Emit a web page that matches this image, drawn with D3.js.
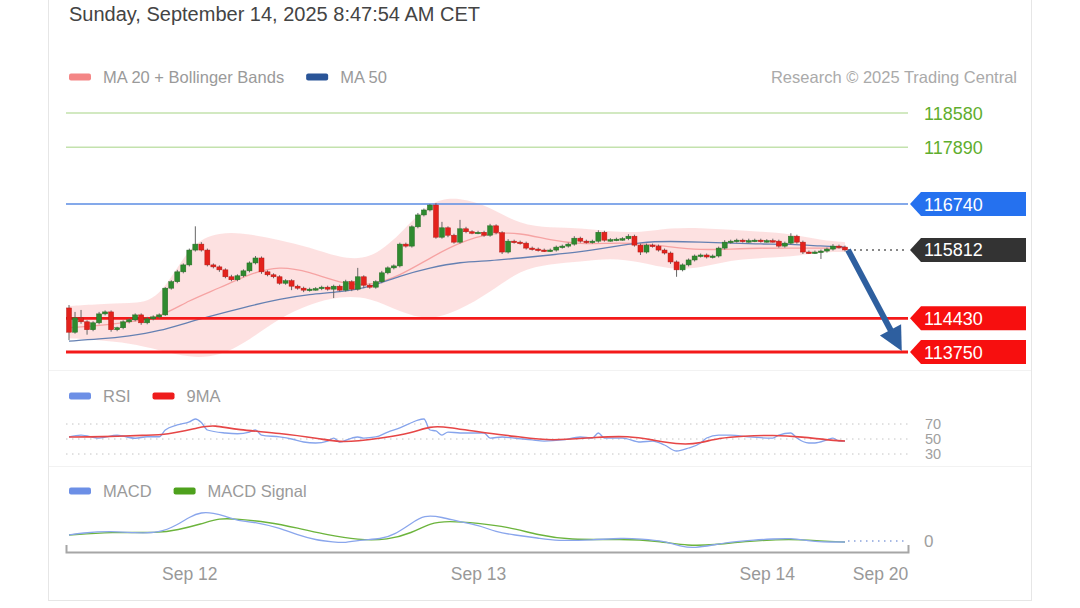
<!DOCTYPE html>
<html>
<head>
<meta charset="utf-8">
<script src="https://cdn.jsdelivr.net/npm/d3@7"></script>
<style>
  body { margin: 0; background: #fff; font-family: "Liberation Sans", Arial, sans-serif; }
</style>
</head>
<body>
<svg id="chart" width="1080" height="608"></svg>
<script>
// 30 minute candles, first one at Sep 11 14:00 UTC
var startTime = Date.UTC(2025, 8, 11, 14, 0);
var halfHour = 30 * 60 * 1000;
var firstOpen = 114640;

var closes = [
  114150, 114440, 114360, 114200, 114340, 114520, 114560, 114200, 114240, 114360,
  114400, 114500, 114340, 114420, 114460, 114500, 115040, 115170, 115370, 115510,
  115810, 115930, 115810, 115510, 115470, 115410, 115270, 115210, 115290, 115390,
  115550, 115650, 115370, 115310, 115270, 115140, 115190, 115080, 115040, 115000,
  115020, 115030, 115060, 115020, 115080, 115000, 115170, 115020, 115270, 115100,
  115060, 115170, 115350, 115450, 115490, 115930, 115890, 116280, 116520, 116620,
  116720, 116070, 116260, 116110, 115970, 116240, 116180, 116160, 116170, 116110,
  116300, 116160, 115770, 115990, 115970, 115950, 115850, 115830, 115810, 115800,
  115810, 115870, 115890, 115930, 116050, 115990, 115970, 115990, 116170, 116010,
  116020, 116030, 116040, 116090, 115910, 115770, 115910, 115890, 115810, 115750,
  115570, 115410, 115510, 115610, 115690, 115710, 115670, 115690, 115850, 115970,
  115990, 116010, 115990, 116000, 116010, 115990, 116000, 115990, 115890, 115950,
  116090, 115970, 115770, 115760, 115770, 115790, 115830, 115890, 115870, 115812
];
// how far the wick goes above / below the body
var wickUp = [
  60, 120, 160, 30, 30, 40, 30, 30, 20, 30,
  30, 30, 30, 40, 30, 30, 20, 30, 40, 30,
  30, 360, 40, 30, 30, 30, 30, 40, 30, 30,
  30, 40, 30, 30, 30, 30, 30, 30, 30, 30,
  30, 30, 30, 30, 30, 30, 40, 30, 180, 30,
  30, 30, 40, 30, 30, 30, 30, 30, 40, 30,
  20, 40, 120, 30, 30, 180, 40, 30, 30, 30,
  40, 30, 30, 40, 30, 30, 30, 30, 30, 30,
  30, 30, 30, 30, 40, 30, 30, 30, 40, 30,
  30, 30, 30, 40, 30, 30, 30, 30, 30, 30,
  30, 30, 30, 30, 30, 30, 30, 30, 30, 40,
  30, 30, 30, 40, 30, 30, 30, 40, 30, 30,
  60, 30, 30, 30, 30, 30, 30, 40, 30, 30
];
var wickDn = [
  160, 30, 40, 100, 30, 30, 30, 40, 30, 30,
  30, 30, 40, 30, 30, 30, 20, 30, 30, 30,
  30, 30, 30, 30, 30, 40, 30, 30, 30, 30,
  30, 30, 40, 30, 30, 30, 30, 80, 30, 40,
  30, 30, 30, 30, 180, 30, 30, 40, 30, 60,
  30, 30, 30, 30, 30, 30, 30, 30, 30, 30,
  30, 30, 30, 40, 30, 30, 30, 30, 30, 30,
  30, 30, 40, 30, 30, 30, 30, 30, 30, 30,
  30, 30, 30, 30, 30, 30, 30, 30, 30, 30,
  30, 30, 30, 30, 30, 60, 30, 30, 30, 30,
  40, 140, 30, 30, 30, 30, 30, 30, 30, 30,
  30, 30, 30, 30, 30, 30, 30, 30, 30, 30,
  30, 30, 40, 30, 30, 140, 30, 30, 30, 30
];

// moving averages / bands read every 5 candles
var bandIdx = [0, 5, 10, 15, 20, 25, 30, 35, 40, 45, 50, 55, 60, 65, 70, 75, 80, 85, 90, 95, 100, 105, 110, 115, 120, 125, 129];
var bbUpper = [114680, 114720, 114740, 114760, 115950, 116180, 116140, 116010, 115870, 115650, 115610, 116110, 116820, 116880, 116680, 116320, 116260, 116260, 116180, 116160, 116260, 116260, 116220, 116180, 116140, 116010, 115970];
var bbLower = [114030, 113990, 113930, 113790, 113630, 113660, 113990, 114440, 114720, 114880, 114860, 114560, 114380, 114600, 114960, 115410, 115530, 115570, 115650, 115570, 115410, 115450, 115610, 115650, 115670, 115770, 115770];
var ma20 = [114240, 114280, 114360, 114440, 114800, 115040, 115330, 115490, 115370, 115140, 115080, 115290, 115650, 115970, 116160, 116160, 116010, 115930, 115950, 115950, 115870, 115810, 115830, 115850, 115850, 115850, 115850];
var ma50 = [113970, 114010, 114070, 114170, 114360, 114520, 114680, 114820, 114920, 114960, 115060, 115290, 115450, 115570, 115590, 115650, 115710, 115770, 115870, 115970, 115990, 115970, 115950, 115930, 115930, 115890, 115870];

var rsiIdx = [0, 2, 5, 8, 11, 13, 15, 16, 18, 20, 21, 22, 23, 26, 28, 30, 31, 32, 35, 37, 39, 41, 43, 44, 45, 47, 48, 49, 51, 53, 55, 57, 58, 59, 60, 61, 62, 63, 65, 67, 69, 70, 72, 74, 77, 79, 82, 85, 87, 88, 89, 92, 95, 97, 99, 101, 103, 105, 106, 108, 110, 113, 117, 118, 120, 121, 123, 124, 126, 127, 128, 129];
var rsi = [52.7, 55.3, 51.3, 55, 51, 53, 53, 62, 68.7, 72.7, 76.7, 72, 62, 58, 57, 59.3, 62, 55.3, 52.7, 50, 46, 44.7, 47.3, 51.3, 46, 51.3, 52.7, 51.3, 52.7, 59.3, 64.7, 72, 75.3, 76.7, 62, 60.7, 55.3, 59.3, 58, 58, 58, 51.3, 52.7, 51.3, 48.7, 47.3, 48.7, 52.7, 51.3, 58, 51.3, 51.3, 46, 47.3, 42, 34, 38, 44.7, 51.3, 55.3, 55.3, 52.7, 51.3, 55.3, 58, 51.3, 44.7, 44.7, 48.7, 51.3, 47.3, 47.3];
var rsiMaIdx = [0, 5, 13, 16, 22, 24, 28, 35, 42, 45, 48, 52, 57, 60, 63, 68, 75, 80, 88, 93, 97, 102, 105, 108, 112, 117, 122, 126, 129];
var rsiMa = [52.7, 52.7, 55.3, 55.3, 66, 68.7, 62, 58, 50, 46, 47.3, 51.3, 58, 67.3, 66, 59.3, 52.7, 47.3, 52.7, 54, 48.7, 42, 44.7, 51.3, 54, 55.3, 52.7, 48.7, 47.3];
var rsiLevels = [70, 50, 30];

var macdIdx = [0, 2, 7, 11, 15, 18, 20, 22, 24, 26, 28, 31, 35, 38, 41, 44, 46, 48, 52, 54, 57, 59, 62, 65, 68, 71, 74, 78, 81, 87, 92, 95, 99, 102, 104, 107, 110, 114, 117, 120, 123, 125, 129];
var macd = [60, 80, 100, 80, 80, 160, 240, 290, 280, 250, 200, 190, 130, 60, 10, -10, -20, 10, 20, 60, 180, 260, 240, 190, 160, 90, 60, 30, 0, 10, 30, 20, 0, -60, -70, -40, -10, 10, 20, 30, 0, -10, -10];
var signalIdx = [0, 7, 15, 18, 22, 25, 28, 33, 38, 43, 48, 53, 57, 60, 63, 68, 73, 78, 83, 92, 98, 103, 107, 113, 120, 125, 129];
var macdSignal = [60, 90, 80, 110, 170, 230, 220, 190, 130, 60, 10, 10, 80, 180, 200, 180, 140, 60, 10, 20, 0, -50, -40, 0, 20, 0, -10];

var resistances = [118580, 117890];
var levelBoxes = [
  { value: 116740, color: "#2571ef", line: "#5b8de3", width: 1.6 },
  { value: 115812, color: "#333333", line: null, width: 0 },
  { value: 114430, color: "#f70f0f", line: "#f41a1a", width: 2.8 },
  { value: 113750, color: "#f70f0f", line: "#f41a1a", width: 2.8 }
];
var lastPrice = 115812;
var target = 113750;

var tickDates = [Date.UTC(2025, 8, 12), Date.UTC(2025, 8, 13), Date.UTC(2025, 8, 14), Date.UTC(2025, 8, 20)];

// ---------------------------------------------------------------
var svg = d3.select("#chart");
var left = 66, right = 908;
var font = "'Liberation Sans', Arial, sans-serif";

function t(i) { return new Date(startTime + i * halfHour); }

var x = d3.scaleUtc()
  .domain([t(-0.5), t(129), new Date(tickDates[3]), new Date(Date.UTC(2025, 8, 21, 12))])
  .range([left, 845, 880, right]);
var y = d3.scaleLinear().domain([113750, 118580]).range([352, 113]);
var yRsi = d3.scaleLinear().domain([30, 70]).range([454, 424]);
var yMacd = d3.scaleLinear().domain([0, 300]).range([541, 511]);

// card
svg.append("rect").attr("x", 48.5).attr("y", -2).attr("width", 983).attr("height", 602.5)
  .attr("fill", "#fff").attr("stroke", "#e6e6e6");
svg.append("line").attr("x1", 49).attr("x2", 1031).attr("y1", 370.5).attr("y2", 370.5).attr("stroke", "#f2f2f2");
svg.append("line").attr("x1", 49).attr("x2", 1031).attr("y1", 466.5).attr("y2", 466.5).attr("stroke", "#f2f2f2");

svg.append("text").attr("x", 69).attr("y", 21).attr("font-size", 20).attr("fill", "#444")
  .text("Sunday, September 14, 2025 8:47:54 AM CET");

function legend(items, yy) {
  var gx = 69;
  items.forEach(function (it) {
    svg.append("rect").attr("x", gx).attr("y", yy - 3.5).attr("width", 22).attr("height", 7).attr("rx", 2).attr("fill", it.color);
    var tx = svg.append("text").attr("x", gx + 34).attr("y", yy + 6).attr("font-size", 16.5).attr("fill", "#9a9a9a").text(it.label);
    gx = gx + 34 + tx.node().getComputedTextLength() + 22;
  });
}
legend([{ label: "MA 20 + Bollinger Bands", color: "#f48686" }, { label: "MA 50", color: "#2a5598" }], 77);
legend([{ label: "RSI", color: "#6c8fe6" }, { label: "9MA", color: "#ee1c1c" }], 396);
legend([{ label: "MACD", color: "#6c8fe6" }, { label: "MACD Signal", color: "#4ea11d" }], 491);

svg.append("text").attr("x", 1017).attr("y", 83).attr("text-anchor", "end").attr("font-size", 16.5)
  .attr("fill", "#aaa").text("Research \u00a9 2025 Trading Central");

// resistance lines (green)
resistances.forEach(function (v) {
  svg.append("line").attr("x1", left).attr("x2", right).attr("y1", y(v)).attr("y2", y(v))
    .attr("stroke", "#c3e2ad").attr("stroke-width", 1.5);
  svg.append("text").attr("x", 924).attr("y", y(v) + 6.5).attr("font-size", 18).attr("fill", "#5fae2e").text(v);
});

// bollinger band + MAs
var bandData = bandIdx.map(function (d, k) { return { t: t(d), up: bbUpper[k], lo: bbLower[k], m20: ma20[k], m50: ma50[k] }; });
svg.append("path").datum(bandData).attr("fill", "#fddcdc").attr("opacity", 0.85)
  .attr("d", d3.area().curve(d3.curveBasis).x(function (d) { return x(d.t); })
    .y0(function (d) { return y(d.lo); }).y1(function (d) { return y(d.up); }));
svg.append("path").datum(bandData).attr("fill", "none").attr("stroke", "#f6a3a3").attr("stroke-width", 1.3)
  .attr("d", d3.line().curve(d3.curveBasis).x(function (d) { return x(d.t); }).y(function (d) { return y(d.m20); }));
svg.append("path").datum(bandData).attr("fill", "none").attr("stroke", "#6580b2").attr("stroke-width", 1.3)
  .attr("d", d3.line().curve(d3.curveBasis).x(function (d) { return x(d.t); }).y(function (d) { return y(d.m50); }));

// level lines with tag boxes
levelBoxes.forEach(function (lv) {
  var yy = y(lv.value);
  if (lv.line) {
    svg.append("line").attr("x1", left).attr("x2", right).attr("y1", yy).attr("y2", yy)
      .attr("stroke", lv.line).attr("stroke-width", lv.width);
  }
  svg.append("path").attr("fill", lv.color)
    .attr("d", "M910," + yy + "L921," + (yy - 12) + "H1026V" + (yy + 12) + "H921Z");
  svg.append("text").attr("x", 924).attr("y", yy + 6.5).attr("font-size", 18).attr("fill", "#fff").text(lv.value);
});

// candles
var candles = closes.map(function (c, i) {
  var o = i === 0 ? firstOpen : closes[i - 1];
  return { t: t(i), o: o, c: c, h: Math.max(o, c) + wickUp[i], l: Math.min(o, c) - wickDn[i] };
});
var cg = svg.append("g");
cg.selectAll("line.wick").data(candles).enter().append("line").attr("class", "wick")
  .attr("x1", function (d) { return x(d.t); }).attr("x2", function (d) { return x(d.t); })
  .attr("y1", function (d) { return y(d.h); }).attr("y2", function (d) { return y(d.l); })
  .attr("stroke", "#666").attr("stroke-width", 1);
cg.selectAll("rect.body").data(candles).enter().append("rect").attr("class", "body")
  .attr("x", function (d) { return x(d.t) - 2.5; }).attr("width", 5)
  .attr("y", function (d) { return y(Math.max(d.o, d.c)); })
  .attr("height", function (d) { return Math.max(1.5, Math.abs(y(d.o) - y(d.c))); })
  .attr("fill", function (d) { return d.c >= d.o ? "#2f8a2f" : "#e3221c"; })
  .attr("stroke", function (d) { return d.c >= d.o ? "#256d25" : "#b51a16"; }).attr("stroke-width", 0.5);

// last price dotted line
svg.append("line").attr("x1", x(t(129)) + 3).attr("x2", right).attr("y1", y(lastPrice)).attr("y2", y(lastPrice))
  .attr("stroke", "#888").attr("stroke-width", 2).attr("stroke-dasharray", "2,4");

// forecast arrow
var ax0 = x(t(129)) + 3, ay0 = y(lastPrice);
var ax1 = x(new Date(Date.UTC(2025, 8, 21, 4))), ay1 = y(target) - 1;
var dx = ax1 - ax0, dy = ay1 - ay0, len = Math.sqrt(dx * dx + dy * dy);
var ux = dx / len, uy = dy / len, headLen = 24, headW = 12;
var bx = ax1 - ux * headLen, by = ay1 - uy * headLen;
svg.append("line").attr("x1", ax0).attr("y1", ay0).attr("x2", bx + ux * 2).attr("y2", by + uy * 2)
  .attr("stroke", "#2e5f9f").attr("stroke-width", 6);
svg.append("path").attr("fill", "#2e5f9f")
  .attr("d", "M" + ax1 + "," + ay1 + "L" + (bx - uy * headW) + "," + (by + ux * headW) +
    "L" + (bx + uy * headW) + "," + (by - ux * headW) + "Z");

// RSI panel
rsiLevels.forEach(function (v) {
  svg.append("line").attr("x1", left).attr("x2", right).attr("y1", yRsi(v)).attr("y2", yRsi(v))
    .attr("stroke", "#c4c4c4").attr("stroke-width", 1).attr("stroke-dasharray", "1.5,4.5");
  svg.append("text").attr("x", 925).attr("y", yRsi(v) + 5).attr("font-size", 14.5).attr("fill", "#a0a0a0").text(v);
});
svg.append("path").datum(rsiIdx.map(function (d, k) { return [t(d), rsi[k]]; }))
  .attr("fill", "none").attr("stroke", "#86a4ec").attr("stroke-width", 1.3)
  .attr("d", d3.line().curve(d3.curveMonotoneX).x(function (d) { return x(d[0]); }).y(function (d) { return yRsi(d[1]); }));
svg.append("path").datum(rsiMaIdx.map(function (d, k) { return [t(d), rsiMa[k]]; }))
  .attr("fill", "none").attr("stroke", "#e64646").attr("stroke-width", 1.6)
  .attr("d", d3.line().curve(d3.curveBasis).x(function (d) { return x(d[0]); }).y(function (d) { return yRsi(d[1]); }));

// MACD panel
svg.append("line").attr("x1", x(t(129)) + 3).attr("x2", right).attr("y1", yMacd(0)).attr("y2", yMacd(0))
  .attr("stroke", "#8aa2dd").attr("stroke-width", 1.5).attr("stroke-dasharray", "1.5,4.5");
svg.append("text").attr("x", 924).attr("y", yMacd(0) + 6).attr("font-size", 17).attr("fill", "#a0a0a0").text(0);
svg.append("path").datum(signalIdx.map(function (d, k) { return [t(d), macdSignal[k]]; }))
  .attr("fill", "none").attr("stroke", "#6cb43c").attr("stroke-width", 1.4)
  .attr("d", d3.line().curve(d3.curveBasis).x(function (d) { return x(d[0]); }).y(function (d) { return yMacd(d[1]); }));
svg.append("path").datum(macdIdx.map(function (d, k) { return [t(d), macd[k]]; }))
  .attr("fill", "none").attr("stroke", "#8aa6ec").attr("stroke-width", 1.3)
  .attr("d", d3.line().curve(d3.curveBasis).x(function (d) { return x(d[0]); }).y(function (d) { return yMacd(d[1]); }));

// time axis
var axis = svg.append("g").attr("transform", "translate(0,552)")
  .call(d3.axisBottom(x).tickValues(tickDates.map(function (d) { return new Date(d); }))
    .tickFormat(d3.utcFormat("%b %d")).tickSizeInner(0).tickSizeOuter(-7).tickPadding(16));
axis.select(".domain").attr("stroke", "#a6a6a6").attr("stroke-width", 2);
axis.selectAll("text").attr("fill", "#999").attr("font-size", 17.5).attr("font-family", font);
</script>
</body>
</html>
